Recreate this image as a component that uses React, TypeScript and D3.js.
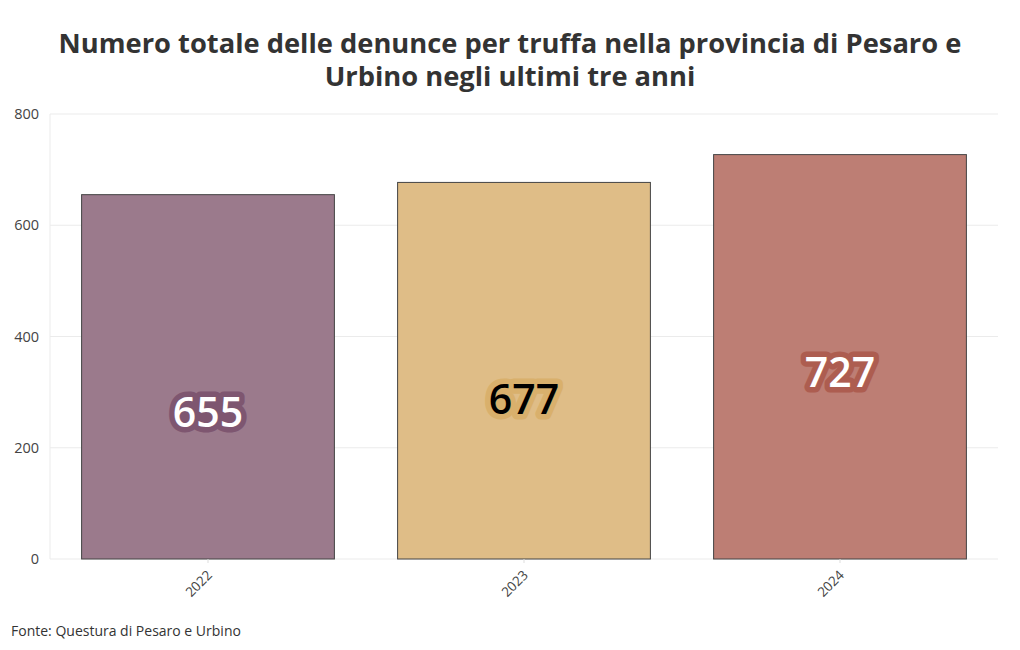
import React from "react";
import * as d3 from "d3";

const years = ["2022", "2023", "2024"];
const values = [655, 677, 727];
const fills = ["#9b7a8c", "#dfbd87", "#bd7e74"];
const haloColors = ["#7e5670", "#d9b06c", "#ad5d50"];
const labelColors = ["#ffffff", "#000000", "#ffffff"];
const yTicks = [0, 200, 400, 600, 800];
const titleLines = [
  "Numero totale delle denunce per truffa nella provincia di Pesaro e",
  "Urbino negli ultimi tre anni",
];
const source = "Fonte: Questura di Pesaro e Urbino";

const W = 1020;
const H = 650;
const M = { left: 50, right: 998, top: 114, bottom: 559 };
const FONT = "'Open Sans', 'Noto Sans', sans-serif";

export default function App() {
  const x = d3.scaleBand<string>().domain(years).range([M.left, M.right]).paddingInner(0.2).paddingOuter(0.1);
  const y = d3.scaleLinear().domain([0, 800]).range([M.bottom, M.top]);
  return (
    <svg width={W} height={H} style={{ position: "absolute", left: 0, top: 0 }} fontFamily={FONT}>
      <rect width={W} height={H} fill="#fff" />
      <text x={510} y={53} textAnchor="middle" fontSize={27.3} fontWeight={700} fill="#333">
        {titleLines.map((t, i) => (
          <tspan key={i} x={510} dy={i === 0 ? 0 : 32.5}>
            {t}
          </tspan>
        ))}
      </text>
      {yTicks.map((t) => (
        <g key={t}>
          <line x1={M.left} x2={M.right} y1={y(t)} y2={y(t)} stroke="#ebebeb" strokeWidth={1} />
          <text x={39} y={y(t)} dy="0.35em" textAnchor="end" fontSize={14.5} fill="#444">
            {t}
          </text>
        </g>
      ))}
      <line x1={M.left} x2={M.left} y1={M.top} y2={M.bottom} stroke="#ebebeb" />
      {years.map((yr, i) => {
        const bx = x(yr)!;
        const bw = x.bandwidth();
        const cx = bx + bw / 2;
        const ly = y(values[i]) + 232;
        return (
          <g key={yr}>
            <rect x={bx} y={y(values[i])} width={bw} height={M.bottom - y(values[i])} fill={fills[i]} stroke="#444" strokeWidth={1} />
            <text x={cx} y={ly} textAnchor="middle" fontSize={41} fontWeight={600} fill={labelColors[i]} stroke={haloColors[i]} strokeWidth={11} strokeLinejoin="round" paintOrder="stroke">
              {values[i]}
            </text>
            <line x1={cx} x2={cx} y1={M.bottom} y2={M.bottom + 4} stroke="#ddd" />
            <text transform={`translate(${cx + 5},${M.bottom + 17}) rotate(-45)`} textAnchor="end" fontSize={13.5} fill="#444">
              {yr}
            </text>
          </g>
        );
      })}
      <text x={11} y={636} fontSize={14} fill="#333">
        {source}
      </text>
    </svg>
  );
}
